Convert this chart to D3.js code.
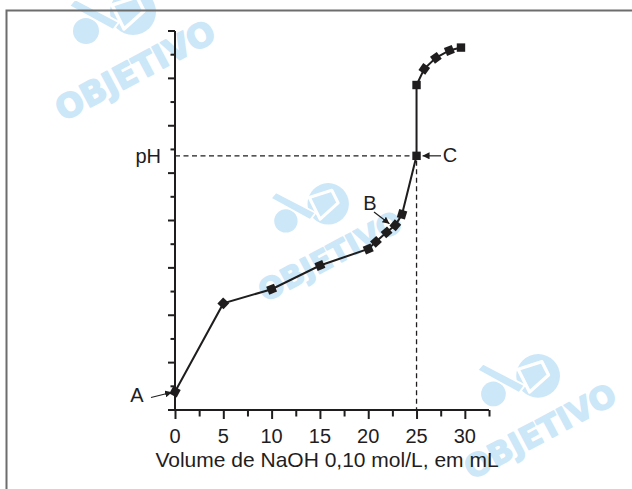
<!DOCTYPE html>
<html lang="pt">
<head>
  <meta charset="utf-8">
  <title>Titulação</title>
  <script type="text/javascript" src="https://cdn.jsdelivr.net/npm/d3@7"></script>
  <style>
    body { margin: 0; background: #fff; }
    svg { display: block; }
  </style>
</head>
<body>
  <script type="text/javascript">

  var volume = [0, 5, 10, 15, 20, 20.8, 21.9, 22.8, 23.5, 25, 25, 25.8, 27, 28.4, 29.6]
  var pH = [0.77, 4.5, 5.1, 6.1, 6.8, 7.1, 7.5, 7.8, 8.26, 10.73, 13.72, 14.4, 14.87, 15.18, 15.3]
  var xTicks = [0, 5, 10, 15, 20, 25, 30]
  var pontoC = { volume: 25, pH: 10.73 }
  var pontoA = { volume: 0, pH: 0.77 }
  var pontoB = { volume: 22.3, pH: 7.65 }
  var xTitle = "Volume de NaOH 0,10 mol/L, em mL"

  var width = 632
  var height = 489
  var ink = "#1f1d1e"
  var azul = "#cce7f8"

  var svg = d3.select("body")
    .append("svg")
    .attr("width", width)
    .attr("height", height);

  var x = d3.scaleLinear().domain([0, 32.5]).range([175, 489]);
  var y = d3.scaleLinear().domain([0, 16]).range([410, 31]);

  // marca d'água (atrás de tudo)
  var wm = svg.append("g").attr("fill", azul);
  watermark(135, 70, 1.0);
  watermark(330, 256, 0.9);
  watermark(540, 431, 0.95);

  function watermark(cx, cy, s) {
    var g = wm.append("g")
      .attr("transform", `translate(${cx},${cy}) scale(${s})`);
    // logo: círculo grande, faixa e círculo pequeno
    var logo = g.append("g").attr("transform", "translate(-2,-58)");
    logo.append("circle").attr("r", 23);
    logo.append("path")
      .attr("d", "M-21,-7 L4,-15 L11,-1 L-9,17 Z")
      .attr("fill", "none")
      .attr("stroke", "#fff")
      .attr("stroke-width", 3.5)
      .attr("stroke-linejoin", "round");
    logo.append("circle").attr("cx", -47).attr("cy", 19).attr("r", 13);
    logo.append("path")
      .attr("d", "M-64,-6 L-58,-13 L-14,10 L-20,18 Z")
      .attr("stroke", "#fff")
      .attr("stroke-width", 2);
    g.append("text")
      .attr("text-anchor", "middle")
      .attr("dy", "0.36em")
      .attr("transform", "rotate(-28)")
      .attr("font-family", "'DejaVu Sans', sans-serif")
      .attr("font-weight", "bold")
      .attr("font-size", 33)
      .attr("stroke", azul)
      .attr("stroke-width", 1.5)
      .attr("stroke-linejoin", "round")
      .text("OBJETIVO");
  }

  // moldura
  svg.append("path")
    .attr("d", `M6.5,${height} V10.5 H${width}`)
    .attr("fill", "none")
    .attr("stroke", "#6d6d6d")
    .attr("stroke-width", 2);

  // seta
  svg.append("defs").append("marker")
    .attr("id", "seta")
    .attr("viewBox", "0 0 10 10")
    .attr("refX", 10)
    .attr("refY", 5)
    .attr("markerWidth", 7)
    .attr("markerHeight", 7)
    .attr("markerUnits", "userSpaceOnUse")
    .attr("orient", "auto")
    .append("path")
    .attr("d", "M0,0 L10,5 L0,10 Z")
    .attr("fill", ink);

  // eixo y
  var yAxis = svg.append("g").attr("stroke", ink).attr("stroke-width", 2);
  yAxis.append("line")
    .attr("x1", x(0)).attr("x2", x(0))
    .attr("y1", y(16)).attr("y2", y(0));
  yAxis.selectAll("line.tick")
    .data(d3.range(1, 17))
    .enter().append("line")
    .attr("class", "tick")
    .attr("x1", d => x(0) - (d % 2 === 0 ? 7 : 4.5))
    .attr("x2", x(0))
    .attr("y1", d => y(d))
    .attr("y2", d => y(d));

  // eixo x
  var xAxis = svg.append("g")
    .attr("transform", `translate(0,${y(0)})`)
    .call(d3.axisBottom(x).tickValues(d3.range(0, 32.6, 2.5)).tickSize(0).tickFormat(""));
  xAxis.select(".domain").attr("d", `M${x(0) - 7},0H${x(32.5)}`)
    .attr("stroke", ink).attr("stroke-width", 2);
  xAxis.selectAll(".tick line")
    .attr("y2", d => d % 5 === 0 ? 9 : 6.5)
    .attr("stroke", ink)
    .attr("stroke-width", 2);

  svg.append("g")
    .selectAll("text")
    .data(xTicks)
    .enter().append("text")
    .attr("x", d => x(d))
    .attr("y", 443)
    .attr("text-anchor", "middle")
    .attr("font-family", "'Liberation Sans', Arial, sans-serif")
    .attr("font-size", 20)
    .attr("fill", ink)
    .text(d => d);

  svg.append("text")
    .attr("x", 327)
    .attr("y", 467)
    .attr("text-anchor", "middle")
    .attr("font-family", "'Liberation Sans', Arial, sans-serif")
    .attr("font-size", 21)
    .attr("fill", ink)
    .text(xTitle);

  // linhas tracejadas até C
  svg.append("path")
    .attr("d", `M${x(0)},${y(pontoC.pH)} H${x(pontoC.volume)} V${y(0)}`)
    .attr("fill", "none")
    .attr("stroke", ink)
    .attr("stroke-width", 1.3)
    .attr("stroke-dasharray", "5,3.5");

  svg.append("text")
    .attr("x", 161)
    .attr("y", y(pontoC.pH) + 7)
    .attr("text-anchor", "end")
    .attr("font-family", "'Liberation Sans', Arial, sans-serif")
    .attr("font-size", 20)
    .attr("fill", ink)
    .text("pH");

  // curva
  var pts = volume.map((v, i) => [x(v), y(pH[i])]);
  svg.append("path")
    .attr("d", d3.line()(pts))
    .attr("fill", "none")
    .attr("stroke", ink)
    .attr("stroke-width", 2);

  svg.append("g")
    .selectAll("rect")
    .data(pts)
    .enter().append("rect")
    .attr("x", -4.2).attr("y", -4.2)
    .attr("width", 8.4).attr("height", 8.4)
    .attr("fill", ink)
    .attr("transform", (d, i) => {
      var a = pts[Math.max(i - 1, 0)], b = pts[Math.min(i + 1, pts.length - 1)];
      var ang = Math.atan2(b[1] - a[1], b[0] - a[0]) * 180 / Math.PI;
      if (i === 9 || i === 10 || i === pts.length - 1) ang = 0;
      return `translate(${d[0]},${d[1]}) rotate(${ang})`;
    });

  // rótulos A, B, C
  function rotulo(txt, tx, ty, x1, y1, x2, y2) {
    svg.append("text")
      .attr("x", tx).attr("y", ty)
      .attr("text-anchor", "middle")
      .attr("font-family", "'Liberation Sans', Arial, sans-serif")
      .attr("font-size", 20)
      .attr("fill", ink)
      .text(txt);
    svg.append("line")
      .attr("x1", x1).attr("y1", y1)
      .attr("x2", x2).attr("y2", y2)
      .attr("stroke", ink)
      .attr("stroke-width", 1.2)
      .attr("marker-end", "url(#seta)");
  }
  rotulo("A", 137, 402, 151, 397.5, x(pontoA.volume) - 3, y(pontoA.pH) + 0.5);
  rotulo("B", 370, 210, 374, 212, x(pontoB.volume) - 1, y(pontoB.pH) - 5);
  rotulo("C", 450, 162, 441, y(pontoC.pH), x(pontoC.volume) + 6, y(pontoC.pH));

  </script>
</body>
</html>
